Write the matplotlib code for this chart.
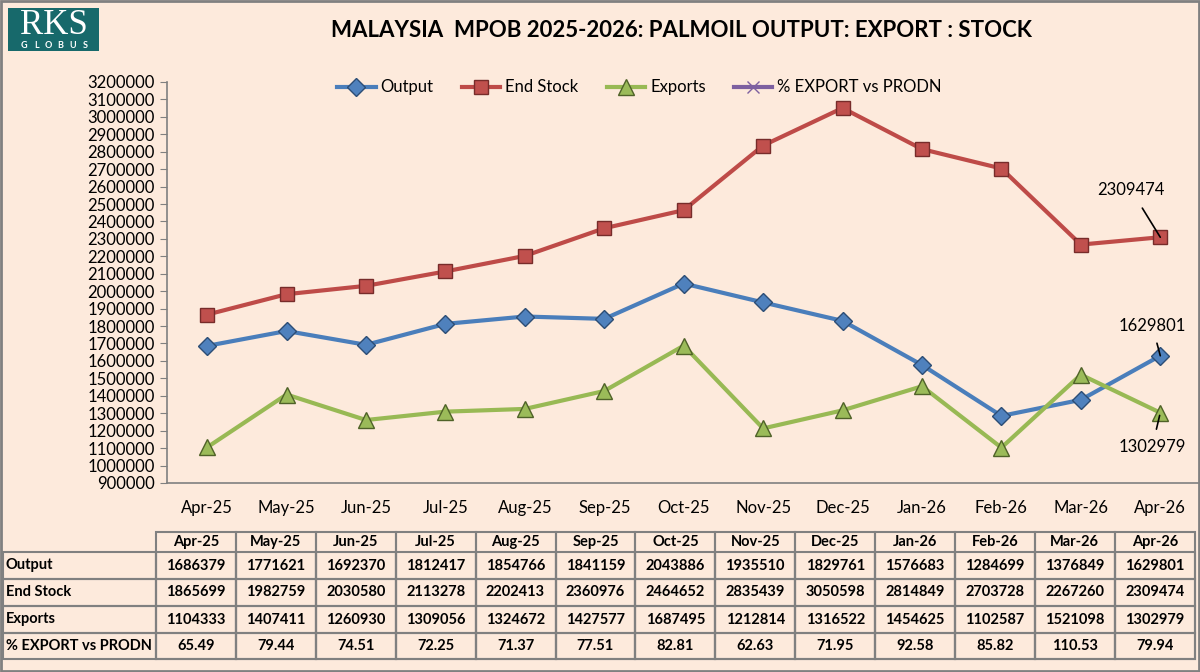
import numpy as np
import matplotlib.pyplot as plt
from matplotlib.patches import Rectangle

months = ['Apr-25', 'May-25', 'Jun-25', 'Jul-25', 'Aug-25', 'Sep-25', 'Oct-25',
          'Nov-25', 'Dec-25', 'Jan-26', 'Feb-26', 'Mar-26', 'Apr-26']
output = [1686379, 1771621, 1692370, 1812417, 1854766, 1841159, 2043886,
          1935510, 1829761, 1576683, 1284699, 1376849, 1629801]
end_stock = [1865699, 1982759, 2030580, 2113278, 2202413, 2360976, 2464652,
             2835439, 3050598, 2814849, 2703728, 2267260, 2309474]
exports = [1104333, 1407411, 1260930, 1309056, 1324672, 1427577, 1687495,
           1212814, 1316522, 1454625, 1102587, 1521098, 1302979]
pct_export = [65.49, 79.44, 74.51, 72.25, 71.37, 77.51, 82.81,
              62.63, 71.95, 92.58, 85.82, 110.53, 79.94]
row_names = ['Output', 'End Stock', 'Exports', '% EXPORT vs PRODN']

plt.rcParams['font.family'] = ['Lato', 'DejaVu Sans']
bg = '#fdeadc'
grey = '#808080'

fig = plt.figure(figsize=(12, 6.72), dpi=100, facecolor=bg)

# overlay in pixel coordinates for border, logo and table
ov = fig.add_axes([0, 0, 1, 1])
ov.set_xlim(0, 1200)
ov.set_ylim(672, 0)
ov.axis('off')
ov.add_patch(Rectangle((1, 1), 1198, 670, fill=False, ec=grey, lw=2))

# logo
ov.add_patch(Rectangle((8, 8), 91, 43, fc='#17696b', ec='none'))
ov.text(54, 26, 'RKS', color='white', fontsize=25, ha='center', va='center',
        family='Liberation Serif')
for k, ch in enumerate('GLOBUS'):
    ov.text(24 + k * 12.2, 45.5, ch, color='white', fontsize=6.5, ha='center',
            va='center', fontweight='bold')

fig.text(0.568, 0.955, 'MALAYSIA  MPOB 2025-2026: PALMOIL OUTPUT: EXPORT : STOCK',
         ha='center', va='center', fontsize=16, fontweight='bold')

# table
x0, xl = 3, 156
cw = 79.9
rows_y = [532, 552, 579, 606, 633, 659]
for j, m in enumerate(months):
    xa = xl + j * cw
    ov.add_patch(Rectangle((xa, rows_y[0]), cw, rows_y[-1] - rows_y[0],
                           fill=False, ec=grey, lw=1.5))
    ov.text(xa + cw / 2, (rows_y[0] + rows_y[1]) / 2, m, ha='center', va='center',
            fontsize=10.5, fontweight='bold')
data_rows = [output, end_stock, exports, pct_export]
for i, (name, vals) in enumerate(zip(row_names, data_rows)):
    ya, yb = rows_y[i + 1], rows_y[i + 2]
    ov.add_patch(Rectangle((x0, ya), xl - x0, yb - ya, fill=False, ec=grey, lw=1.5))
    ov.text(x0 + 3, (ya + yb) / 2, name, ha='left', va='center',
            fontsize=10.5, fontweight='bold')
    for j, v in enumerate(vals):
        xa = xl + j * cw
        ov.add_patch(Rectangle((xa, ya), cw, yb - ya, fill=False, ec=grey, lw=1.5))
        s = f'{v:.2f}' if i == 3 else f'{v}'
        ov.text(xa + cw / 2, (ya + yb) / 2, s, ha='center', va='center',
                fontsize=10.5, fontweight='bold')

# main chart
ax = fig.add_axes([0.1395, 0.2813, 0.8605, 0.5967])
ax.set_facecolor('none')
x = np.arange(len(months))
ax.plot(x, output, color='#4a7ebb', lw=3, marker='D', ms=9, mfc='#4f81bd',
        mec='#2c4d75', label='Output')
ax.plot(x, end_stock, color='#be4b48', lw=3, marker='s', ms=10, mfc='#c0504d',
        mec='#772c2a', label='End Stock')
ax.plot(x, exports, color='#98b954', lw=3, marker='^', ms=11, mfc='#9bbb59',
        mec='#4f6228', label='Exports')
ax.plot(x, pct_export, color='#7d60a0', lw=3, marker='x', ms=8, mec='#7d60a0',
        label='% EXPORT vs PRODN')

ax.set_xlim(-0.5, len(months) - 0.5)
ax.set_ylim(900000, 3200000)
ax.set_yticks(np.arange(900000, 3200001, 100000))
ax.set_yticklabels([f'{v}' for v in range(900000, 3200001, 100000)], fontsize=12)
ax.set_xticks(x)
ax.set_xticklabels(months, fontsize=12)
ax.tick_params(axis='x', length=0, pad=12)
ax.tick_params(axis='y', length=5, color=grey, pad=4)
for s in ['top', 'right']:
    ax.spines[s].set_visible(False)
ax.spines['left'].set_color(grey)
ax.spines['bottom'].set_color(grey)
ax.spines['left'].set_linewidth(1.2)
ax.spines['bottom'].set_linewidth(1.2)

n = len(months) - 1
ax.annotate(f'{end_stock[n]}', xy=(n, end_stock[n]), xytext=(-29, 47),
            textcoords='offset pixels', ha='center', va='center', fontsize=12,
            arrowprops=dict(arrowstyle='-', color='black', lw=1.2, shrinkA=6, shrinkB=0))
ax.annotate(f'{output[n]}', xy=(n, output[n]), xytext=(-8, 30),
            textcoords='offset pixels', ha='center', va='center', fontsize=12,
            arrowprops=dict(arrowstyle='-', color='black', lw=1.2, shrinkA=5, shrinkB=0))
ax.annotate(f'{exports[n]}', xy=(n, exports[n]), xytext=(-8, -34),
            textcoords='offset pixels', ha='center', va='center', fontsize=12,
            arrowprops=dict(arrowstyle='-', color='black', lw=1.2, shrinkA=5, shrinkB=2))

fig.legend(handles=ax.get_lines(), loc='center', bbox_to_anchor=(0.533, 0.87),
           ncol=4, frameon=False, fontsize=12, handlelength=2.3, columnspacing=1.7,
           handletextpad=0.3)

fig.savefig('out.png', dpi=100, facecolor=bg)
